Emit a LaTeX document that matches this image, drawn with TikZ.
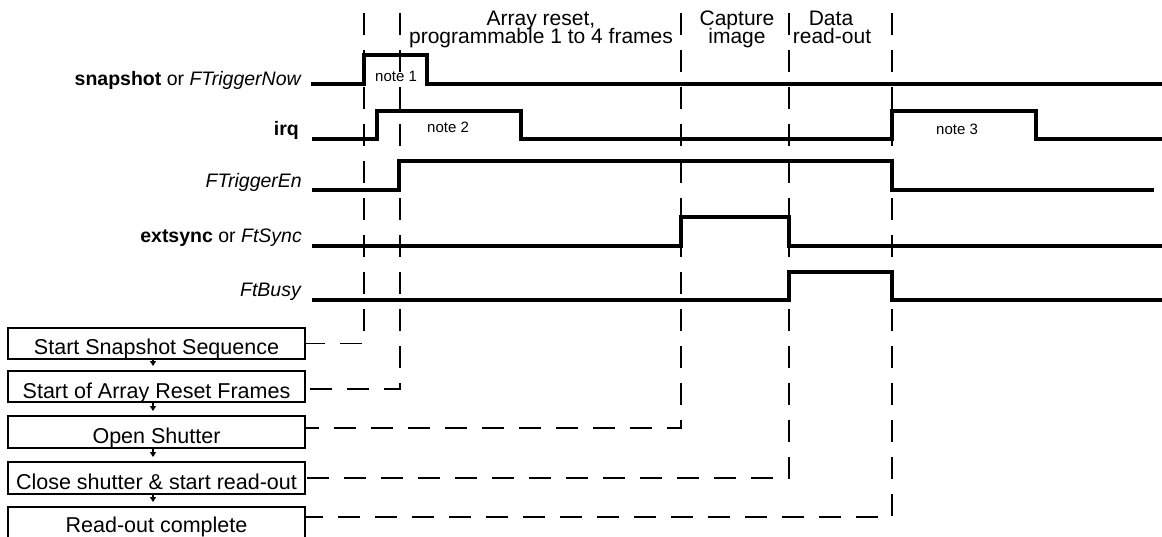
\documentclass[tikz,border=0pt]{standalone}
\usepackage{fontspec}
\setmainfont{Liberation Sans}
\usetikzlibrary{arrows.meta}
\tikzset{
  sig/.style={line width=4pt, line join=miter},
  guide/.style={line width=1.5pt, dash pattern=on 22pt off 15pt},
  stepbox/.style={draw, line width=2pt, minimum width=297pt, minimum height=31pt, inner sep=0pt,
    text height=23pt, text depth=0pt, font=\fontsize{21.5}{24}\selectfont},
  siglabel/.style={anchor=base east, inner sep=0pt, font=\fontsize{19.5}{22}\selectfont},
  toplabel/.style={anchor=base, inner sep=0pt, font=\fontsize{21}{24}\selectfont},
  notelabel/.style={anchor=base west, inner sep=0pt, font=\fontsize{15}{17}\selectfont},
  flowarrow/.style={line width=1.5pt, -{Triangle[width=6pt,length=5pt]}, shorten >=4pt}
}
\begin{document}
\begin{tikzpicture}[x=1pt,y=-1pt]
\useasboundingbox (0,0) rectangle (1162,537);
\clip (0,0) rectangle (1162,537);

% signal labels
\node[siglabel] (lsnap) at (302,86) {\textbf{snapshot} or \textit{FTriggerNow}};
\node[siglabel] (lirq) at (299,136) {\textbf{irq}};
\node[siglabel] (lten) at (302,188) {\textit{FTriggerEn}};
\node[siglabel] (lext) at (302,243) {\textbf{extsync} or \textit{FtSync}};
\node[siglabel] (lbusy) at (302,297) {\textit{FtBusy}};

% waveforms
\draw[sig] (311,84) -- (364,84) -- (364,55) -- (427,55) -- (427,84) -- (1166,84);
\draw[sig] (312,139) -- (377,139) -- (377,111) -- (521,111) -- (521,139) -- (892,139) -- (892,111) -- (1036,111) -- (1036,139) -- (1166,139);
\draw[sig] (312,190) -- (399,190) -- (399,161) -- (892,161) -- (892,190) -- (1154,190);
\draw[sig] (312,246) -- (681,246) -- (681,217) -- (789,217) -- (789,246) -- (1166,246);
\draw[sig] (312,300) -- (789,300) -- (789,272) -- (892,272) -- (892,300) -- (1166,300);

% notes
\node[notelabel] (n1) at (375,82) {note 1};
\node[notelabel] (n2) at (427,133) {note 2};
\node[notelabel] (n3) at (936,135) {note 3};

% top labels
\node[toplabel] (a1) at (541,26) {Array reset,};
\node[toplabel] (a2) at (541,44) {programmable 1 to 4 frames};
\node[toplabel] (c1) at (737,26) {Capture};
\node[toplabel] (c2) at (737,44) {image};
\node[toplabel] (d1) at (831,26) {Data};
\node[toplabel] (d2) at (832,44) {read-out};

% step boxes
\node[stepbox] (b1) at (156.5,343.5) {Start Snapshot Sequence};
\node[stepbox] (b2) at (156.5,386.5) {Start of Array Reset Frames};
\node[stepbox, minimum height=32pt] (b3) at (156.5,432) {Open Shutter};
\node[stepbox, minimum height=32pt] (b4) at (156.5,478) {Close shutter \& start read-out};
\node[stepbox, minimum height=33pt, text height=17pt] (b5) at (156.5,523.5) {Read-out complete};

% flow arrows
\draw[flowarrow] ([xshift=-3.5pt]b1.south) -- ([xshift=-3.5pt]b2.north);
\draw[flowarrow] ([xshift=-3.5pt]b2.south) -- ([xshift=-3.5pt]b3.north);
\draw[flowarrow] ([xshift=-3.5pt]b3.south) -- ([xshift=-3.5pt]b4.north);
\draw[flowarrow] ([xshift=-3.5pt]b4.south) -- ([xshift=-3.5pt]b5.north);

% guide lines
\coordinate (t1) at (364,13);
\coordinate (t2) at (400,13);
\coordinate (t3) at (681,13);
\coordinate (t4) at (789,13);
\coordinate (t5) at (892,13);
\coordinate (e1) at ([yshift=0pt]b1.east);
\coordinate (e2) at ([yshift=-2.5pt]b2.east);
\coordinate (e3) at ([yshift=4pt]b3.east);
\coordinate (e4) at ([yshift=0pt]b4.east);
\coordinate (e5) at ([yshift=6.5pt]b5.east);
\draw[guide] (t1) -- (t1 |- e1) -- (e1);
\draw[guide] (t2) -- (t2 |- e2) -- (e2);
\draw[guide] (t3) -- (t3 |- e3) -- (e3);
\draw[guide] (t4) -- (t4 |- e4) -- (e4);
\draw[guide] (t5) -- (t5 |- e5) -- (e5);
\end{tikzpicture}
\end{document}
